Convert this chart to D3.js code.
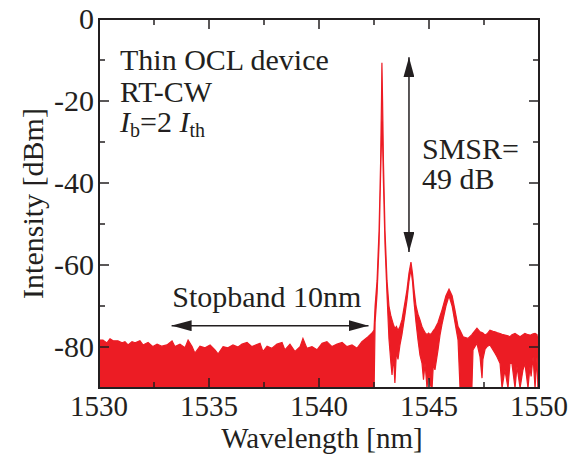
<!DOCTYPE html>
<html>
<head>
<meta charset="utf-8">
<script src="https://cdn.jsdelivr.net/npm/d3@7"></script>
<style>
  body { margin: 0; background: #fff; }
  svg text { font-family: "Liberation Serif", "DejaVu Serif", serif; fill: #231f20; }
</style>
</head>
<body>
<svg id="chart"></svg>
<script>
// noise floor, upper edge of the trace (lower edge runs off the bottom)
const floorWl = [1530.00, 1530.18, 1530.36, 1530.50, 1530.64, 1530.86, 1531.05, 1531.18, 1531.32, 1531.50,
  1531.64, 1531.86, 1532.00, 1532.23, 1532.45, 1532.64, 1532.86, 1533.09, 1533.32, 1533.45,
  1533.68, 1533.91, 1534.05, 1534.23, 1534.36, 1534.59, 1534.82, 1535.05, 1535.27, 1535.41,
  1535.64, 1535.86, 1536.09, 1536.32, 1536.50, 1536.73, 1536.95, 1537.32, 1537.45, 1537.64,
  1537.86, 1538.09, 1538.32, 1538.45, 1538.68, 1538.91, 1539.14, 1539.27, 1539.45, 1539.68,
  1539.91, 1540.14, 1540.36, 1540.59, 1540.82, 1541.05, 1541.27, 1541.50, 1541.73, 1541.95,
  1542.09, 1542.23, 1542.41];
const floorDb = [-78.3, -78.3, -79.0, -78.0, -78.5, -78.5, -79.0, -78.7, -79.5, -78.7,
  -79.0, -78.5, -79.5, -78.9, -79.9, -79.3, -79.8, -79.5, -78.5, -79.9,
  -79.3, -80.2, -78.3, -79.9, -81.5, -79.8, -80.2, -79.5, -80.7, -81.7,
  -79.9, -80.2, -79.5, -80.0, -79.3, -78.9, -79.9, -79.1, -81.1, -79.8,
  -80.3, -79.3, -78.9, -80.7, -79.3, -81.1, -79.9, -77.9, -80.3, -79.9,
  -80.7, -79.1, -78.7, -79.9, -79.3, -78.9, -79.9, -79.5, -80.3, -78.7,
  -78.1, -77.5, -76.6];

// lasing modes region: upper and lower edges of the trace
const peakWl = [1542.50, 1542.55, 1542.64, 1542.73, 1542.80, 1542.84, 1542.86, 1542.89, 1542.93, 1543.00,
  1543.09, 1543.18, 1543.27, 1543.32, 1543.38, 1543.45, 1543.52, 1543.59, 1543.68, 1543.77,
  1543.91, 1544.00, 1544.09, 1544.18, 1544.25, 1544.32, 1544.41, 1544.50, 1544.59, 1544.68,
  1544.75, 1544.82, 1544.91, 1544.98, 1545.05, 1545.14, 1545.20, 1545.27, 1545.41, 1545.50,
  1545.59, 1545.77, 1545.91, 1546.05, 1546.18, 1546.32, 1546.41, 1546.55, 1546.77, 1546.95,
  1547.00, 1547.18, 1547.32, 1547.41, 1547.45, 1547.55, 1547.64, 1547.77, 1547.91, 1548.00,
  1548.09, 1548.23, 1548.32, 1548.45, 1548.59, 1548.68, 1548.77, 1548.91, 1549.00, 1549.14,
  1549.27, 1549.36, 1549.50, 1549.59, 1549.64, 1549.73, 1549.82, 1549.91, 1549.95, 1550.00];
const peakHi = [-75.9, -70.0, -63.7, -51.5, -35.0, -20.0, -10.7, -20.0, -35.0, -51.5,
  -63.7, -70.0, -72.5, -73.4, -74.5, -75.5, -75.0, -76.0, -75.0, -73.4,
  -69.0, -66.0, -62.0, -59.3, -62.0, -66.0, -70.0, -72.0, -73.4, -75.0,
  -75.8, -76.5, -77.0, -76.6, -77.0, -76.5, -76.0, -75.5, -74.0, -72.5,
  -71.0, -67.5, -65.9, -67.5, -71.0, -75.0, -75.9, -77.5, -77.9, -77.0,
  -76.6, -75.4, -76.3, -76.5, -76.6, -77.1, -76.8, -75.9, -76.2, -76.3,
  -76.5, -76.7, -76.9, -77.1, -77.3, -77.5, -77.0, -76.7, -77.0, -77.5,
  -77.0, -76.7, -77.0, -77.1, -77.0, -76.8, -76.7, -77.0, -78.3, -78.3];
const peakLo = [-92.0, -74.0, -67.0, -55.0, -38.0, -30.0, -25.0, -30.0, -40.0, -55.0,
  -67.0, -78.0, -84.0, -86.8, -82.0, -88.8, -81.0, -83.0, -79.5, -77.0,
  -72.0, -68.5, -64.0, -61.0, -64.0, -69.0, -74.0, -78.3, -82.0, -83.9,
  -88.0, -84.0, -90.0, -86.0, -89.3, -90.0, -84.0, -85.6, -80.7, -77.1,
  -74.5, -70.0, -67.5, -70.0, -74.0, -78.3, -90.0, -90.0, -90.0, -90.0,
  -80.7, -79.1, -82.4, -87.6, -83.0, -80.5, -79.9, -79.5, -80.7, -81.5,
  -82.4, -84.0, -90.0, -85.6, -90.0, -84.0, -84.0, -90.0, -84.8, -90.0,
  -85.6, -84.0, -90.0, -84.8, -87.2, -82.4, -90.0, -82.4, -90.0, -90.0];

const xMajor = [1530, 1535, 1540, 1545, 1550];
const xMinor = [1532.5, 1537.5, 1542.5, 1547.5];
const yMajor = [0, -20, -40, -60, -80];
const yMinor = [-10, -30, -50, -70, -90];

const width = 580, height = 464;
const margin = { top: 19, right: 41, bottom: 76, left: 99 };
const w = width - margin.left - margin.right;
const h = height - margin.top - margin.bottom;
const red = "#ec1c24";
const ink = "#231f20";

const svg = d3.select("#chart").attr("width", width).attr("height", height);
const g = svg.append("g").attr("transform", `translate(${margin.left},${margin.top})`);

const x = d3.scaleLinear().domain([1530, 1550]).range([0, w]);
const y = d3.scaleLinear().domain([-90, 0]).range([h, 0]);

svg.append("defs").append("clipPath").attr("id", "clip")
  .append("rect").attr("width", w).attr("height", h);

const trace = floorWl.map((d, i) => ({ wl: d, hi: floorDb[i], lo: -92 }))
  .concat(peakWl.map((d, i) => ({ wl: d, hi: peakHi[i], lo: peakLo[i] })));

const plot = g.append("g").attr("clip-path", "url(#clip)");
plot.append("path")
  .datum(trace)
  .attr("fill", red)
  .attr("stroke", red)
  .attr("stroke-width", 1.2)
  .attr("d", d3.area().x((d) => x(d.wl)).y0((d) => y(d.lo)).y1((d) => y(d.hi)));

// frame and ticks (inward on all sides)
function ticks(values, len, horizontal) {
  values.forEach((v) => {
    if (horizontal) {
      g.append("line").attr("x1", x(v)).attr("x2", x(v)).attr("y1", h).attr("y2", h - len);
      g.append("line").attr("x1", x(v)).attr("x2", x(v)).attr("y1", 0).attr("y2", len);
    } else {
      g.append("line").attr("y1", y(v)).attr("y2", y(v)).attr("x1", 0).attr("x2", len);
      g.append("line").attr("y1", y(v)).attr("y2", y(v)).attr("x1", w).attr("x2", w - len);
    }
  });
}
ticks(xMajor, 10, true);
ticks(xMinor, 6, true);
ticks(yMajor, 10, false);
ticks(yMinor, 6, false);
g.selectAll("line").attr("stroke", ink).attr("stroke-width", 1.5);

g.append("rect").attr("width", w).attr("height", h)
  .attr("fill", "none").attr("stroke", ink).attr("stroke-width", 2);

g.selectAll(".xl").data(xMajor).enter().append("text")
  .attr("x", (d) => x(d)).attr("y", h + 28)
  .attr("text-anchor", "middle").attr("font-size", 29)
  .text((d) => d);

g.selectAll(".yl").data(yMajor).enter().append("text")
  .attr("x", -5).attr("y", (d) => y(d)).attr("dy", "0.34em")
  .attr("text-anchor", "end").attr("font-size", 30)
  .text((d) => d);

svg.append("text")
  .attr("x", margin.left + w / 2 + 3).attr("y", 448)
  .attr("text-anchor", "middle").attr("font-size", 29)
  .text("Wavelength [nm]");

svg.append("text")
  .attr("transform", `translate(43,${margin.top + h / 2}) rotate(-90)`)
  .attr("text-anchor", "middle").attr("font-size", 30)
  .text("Intensity [dBm]");

// annotations
const note = g.append("g").attr("font-size", 30);
note.append("text").attr("x", 21).attr("y", 51).text("Thin OCL device");
note.append("text").attr("x", 21).attr("y", 83).text("RT-CW");
const ib = note.append("text").attr("x", 21).attr("y", 113);
ib.append("tspan").attr("font-style", "italic").text("I");
ib.append("tspan").attr("font-size", 20).attr("dy", 5).text("b");
ib.append("tspan").attr("dy", -5).text("=2 ");
ib.append("tspan").attr("font-style", "italic").text("I");
ib.append("tspan").attr("font-size", 20).attr("dy", 5).text("th");

note.append("text").attr("x", x(1544.68)).attr("y", 140).text("SMSR=");
note.append("text").attr("x", x(1544.68)).attr("y", 170).text("49 dB");
note.append("text").attr("x", x(1533.33)).attr("y", 288).text("Stopband 10nm");

const defs = svg.select("defs");
defs.append("marker").attr("id", "head")
  .attr("viewBox", "0 0 20 11").attr("refX", 20).attr("refY", 5.5)
  .attr("markerWidth", 20).attr("markerHeight", 11)
  .attr("markerUnits", "userSpaceOnUse").attr("orient", "auto-start-reverse")
  .append("path").attr("d", "M0,0 L20,5.5 L0,11 Z").attr("fill", ink);

g.append("line")
  .attr("x1", x(1544.09)).attr("x2", x(1544.09))
  .attr("y1", y(-9.3)).attr("y2", y(-56.8))
  .attr("stroke", ink).attr("stroke-width", 1.5)
  .attr("marker-start", "url(#head)").attr("marker-end", "url(#head)");

g.append("line")
  .attr("x1", x(1533.3)).attr("x2", x(1542.25))
  .attr("y1", y(-74.8)).attr("y2", y(-74.8))
  .attr("stroke", ink).attr("stroke-width", 1.5)
  .attr("marker-start", "url(#head)").attr("marker-end", "url(#head)");
</script>
</body>
</html>
